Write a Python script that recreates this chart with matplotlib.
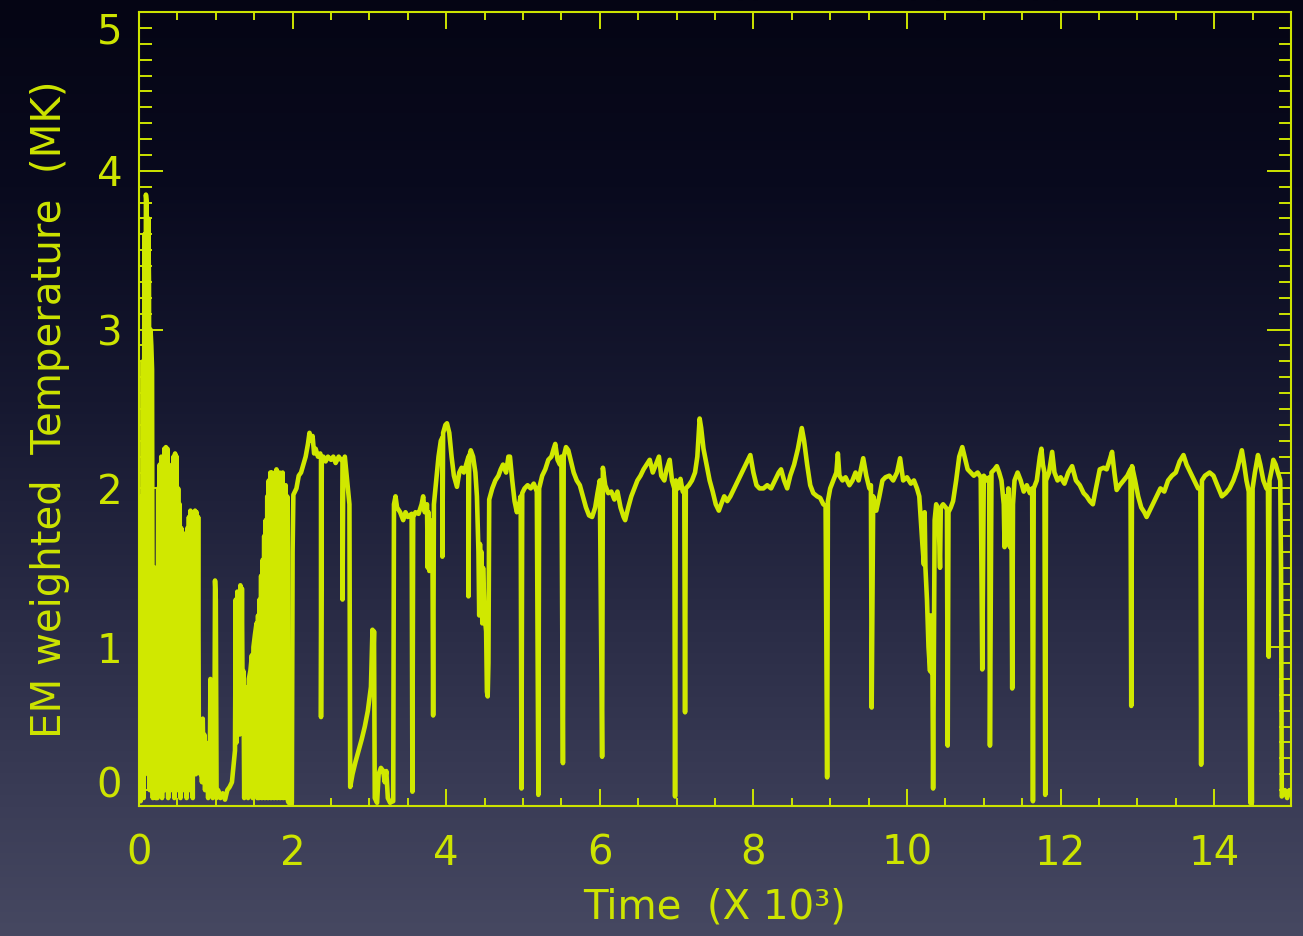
import numpy as np
import matplotlib
matplotlib.use("Agg")
import matplotlib.pyplot as plt
from matplotlib.ticker import MultipleLocator

# ---------------- data ----------------
# early, strongly fluctuating phase (time in units of 10^3)
t_burst = [0.0, 0.01, 0.02, 0.03, 0.04, 0.05, 0.06, 0.07, 0.08, 0.09, 0.10, 0.11, 0.12, 0.13, 0.14,
           0.15, 0.16, 0.17, 0.18, 0.19, 0.20, 0.21, 0.22, 0.23, 0.24, 0.25, 0.26, 0.27, 0.28, 0.29,
           0.30, 0.31, 0.32, 0.33, 0.34, 0.35, 0.36, 0.37, 0.38, 0.39, 0.40, 0.41, 0.42, 0.43, 0.44,
           0.45, 0.46, 0.47, 0.48, 0.49, 0.50, 0.51, 0.52, 0.53, 0.54, 0.55, 0.56, 0.57, 0.58, 0.59,
           0.60, 0.61, 0.62, 0.63, 0.64, 0.65, 0.66, 0.67, 0.68, 0.69, 0.70, 0.71, 0.72, 0.73, 0.74,
           0.75, 0.76, 0.77, 0.78, 0.79, 0.80, 0.81, 0.82, 0.83, 0.84, 0.85, 0.86, 0.87, 0.88, 0.89,
           0.90, 0.91, 0.92, 0.93, 0.935, 0.95, 0.96, 0.97, 0.98, 0.99, 1.00, 1.01, 1.03, 1.06, 1.09,
           1.12, 1.15, 1.18, 1.21, 1.23, 1.25, 1.26, 1.27, 1.28, 1.29, 1.30, 1.31, 1.32, 1.33, 1.34,
           1.35, 1.36, 1.37, 1.38, 1.40, 1.42, 1.43, 1.45, 1.47, 1.48, 1.49, 1.51, 1.53, 1.54, 1.55,
           1.56, 1.57, 1.58, 1.59, 1.60, 1.61, 1.62, 1.63, 1.64, 1.65, 1.66, 1.67, 1.68, 1.69, 1.70,
           1.71, 1.72, 1.73, 1.74, 1.75, 1.76, 1.77, 1.78, 1.79, 1.80, 1.81, 1.82, 1.83, 1.84, 1.85,
           1.86, 1.87, 1.88, 1.89, 1.90, 1.91, 1.92, 1.93, 1.94]
T_burst = [0.05, 1.2, 0.03, 1.95, 0.1, 2.8, 0.05, 3.6, 0.2, 3.85, 3.8, 0.3, 3.7, 3.3, 0.1,
           3.0, 2.9, 2.75, 0.05, 1.0, 0.1, 1.5, 0.05, 0.9, 0.05, 2.0, 0.1, 2.15, 0.3, 2.2,
           0.05, 2.18, 0.5, 2.25, 0.1, 2.26, 0.4, 2.25, 0.05, 2.1, 0.2, 2.0, 0.1, 2.15, 0.6,
           2.2, 0.05, 2.22, 0.3, 2.2, 0.1, 2.0, 0.4, 1.9, 0.05, 1.75, 0.3, 1.72, 0.1, 1.65,
           0.5, 1.6, 0.05, 1.75, 0.3, 1.82, 0.1, 1.86, 0.4, 1.85, 0.05, 1.84, 0.35, 1.86, 0.2,
           1.85, 0.5, 1.82, 0.3, 0.45, 0.2, 0.5, 0.15, 0.55, 0.25, 0.45, 0.1, 0.4, 0.2, 0.35,
           0.05, 0.3, 0.1, 0.8, 0.1, 0.35, 0.05, 0.2, 0.08, 1.42, 1.3, 0.05, 0.1, 0.05, 0.08,
           0.04, 0.1, 0.12, 0.15, 0.25, 0.35, 1.3, 0.4, 1.35, 0.5, 0.8, 0.45, 1.39, 0.55, 1.37,
           0.6, 0.85, 0.05, 0.75, 0.7, 0.05, 0.8, 0.85, 0.95, 0.05, 1.0, 1.08, 1.15, 0.05, 1.2,
           0.05, 1.3, 0.4, 1.45, 0.05, 1.55, 0.6, 1.7, 0.05, 1.8, 0.3, 1.95, 0.05, 2.05, 0.5,
           2.1, 0.05, 2.1, 0.8, 2.08, 0.05, 2.1, 0.3, 2.12, 0.05, 2.08, 0.6, 2.1, 0.05, 2.05,
           0.4, 2.1, 0.05, 2.0, 0.2, 2.02, 0.05, 1.95, 0.03]

# quasi-steady phase with sudden drop-outs
t_main = [1.95, 1.99, 2.00, 2.01, 2.05, 2.08, 2.11, 2.14, 2.17, 2.20, 2.22, 2.24, 2.26, 2.28, 2.30,
          2.33, 2.36, 2.37, 2.37, 2.38, 2.40, 2.43, 2.46, 2.50, 2.53, 2.56, 2.60, 2.63, 2.65, 2.65,
          2.66, 2.68, 2.70, 2.72, 2.74, 2.75, 2.78, 2.82, 2.86, 2.90, 2.94, 2.98, 3.02, 3.04, 3.05,
          3.06, 3.07, 3.10, 3.12, 3.15, 3.18, 3.20, 3.22, 3.24, 3.27, 3.30, 3.31, 3.32, 3.34, 3.36,
          3.40, 3.44, 3.47, 3.50, 3.55, 3.56, 3.57, 3.60, 3.64, 3.68, 3.70, 3.72, 3.75, 3.76, 3.77,
          3.78, 3.79, 3.82, 3.83, 3.84, 3.87, 3.90, 3.93, 3.95, 3.95, 3.96, 3.99, 4.01, 4.04, 4.07,
          4.10, 4.14, 4.17, 4.20, 4.23, 4.26, 4.29, 4.29, 4.30, 4.32, 4.35, 4.38, 4.40, 4.42, 4.43,
          4.44, 4.45, 4.46, 4.47, 4.48, 4.50, 4.52, 4.53, 4.54, 4.55, 4.56, 4.60, 4.64, 4.68, 4.71,
          4.74, 4.78, 4.81, 4.83, 4.86, 4.89, 4.92, 4.95, 4.97, 4.98, 4.99, 5.02, 5.06, 5.10, 5.14,
          5.18, 5.20, 5.21, 5.25, 5.29, 5.33, 5.37, 5.40, 5.42, 5.45, 5.48, 5.50, 5.52, 5.53, 5.56,
          5.59, 5.62, 5.66, 5.70, 5.74, 5.78, 5.82, 5.86, 5.90, 5.94, 5.97, 6.00, 6.03, 6.04, 6.07,
          6.11, 6.15, 6.19, 6.23, 6.27, 6.31, 6.33, 6.37, 6.41, 6.45, 6.49, 6.53, 6.57, 6.61, 6.65,
          6.69, 6.73, 6.77, 6.80, 6.84, 6.87, 6.91, 6.94, 6.97, 6.98, 6.99, 7.02, 7.05, 7.08, 7.10,
          7.11, 7.12, 7.16, 7.20, 7.24, 7.27, 7.30, 7.32, 7.35, 7.39, 7.43, 7.47, 7.51, 7.55, 7.58,
          7.62, 7.66, 7.70, 7.75, 7.80, 7.85, 7.90, 7.96, 8.00, 8.04, 8.08, 8.13, 8.18, 8.23, 8.28,
          8.33, 8.36, 8.40, 8.44, 8.48, 8.53, 8.58, 8.63, 8.66, 8.70, 8.74, 8.78, 8.83, 8.87, 8.91,
          8.94, 8.96, 8.97, 9.00, 9.04, 9.08, 9.10, 9.12, 9.16, 9.20, 9.25, 9.29, 9.33, 9.37, 9.40,
          9.43, 9.47, 9.51, 9.53, 9.54, 9.56, 9.60, 9.64, 9.68, 9.72, 9.77, 9.82, 9.87, 9.91, 9.95,
          10.00, 10.05, 10.09, 10.13, 10.16, 10.18, 10.20, 10.22, 10.23, 10.24, 10.26, 10.28, 10.30, 10.31, 10.32,
          10.33, 10.34, 10.35, 10.36, 10.38, 10.41, 10.43, 10.44, 10.47, 10.52, 10.53, 10.54, 10.57, 10.60, 10.64,
          10.68, 10.72, 10.75, 10.79, 10.83, 10.87, 10.92, 10.96, 10.98, 11.00, 11.04, 11.07, 11.08, 11.10, 11.14,
          11.17, 11.20, 11.23, 11.26, 11.27, 11.28, 11.30, 11.32, 11.34, 11.36, 11.37, 11.38, 11.40, 11.44, 11.48,
          11.52, 11.56, 11.60, 11.63, 11.64, 11.65, 11.69, 11.73, 11.75, 11.77, 11.79, 11.80, 11.81, 11.85, 11.89,
          11.92, 11.96, 12.00, 12.05, 12.10, 12.15, 12.20, 12.25, 12.30, 12.34, 12.38, 12.42, 12.46, 12.51, 12.56,
          12.60, 12.64, 12.67, 12.70, 12.73, 12.77, 12.82, 12.87, 12.91, 12.92, 12.93, 12.97, 13.01, 13.05, 13.09,
          13.12, 13.16, 13.20, 13.25, 13.30, 13.35, 13.40, 13.45, 13.50, 13.55, 13.60, 13.64, 13.69, 13.74, 13.79,
          13.82, 13.83, 13.84, 13.88, 13.94, 13.99, 14.04, 14.10, 14.15, 14.20, 14.25, 14.30, 14.34, 14.36, 14.39,
          14.42, 14.45, 14.47, 14.48, 14.49, 14.50, 14.53, 14.57, 14.60, 14.64, 14.68, 14.70, 14.71, 14.72, 14.75,
          14.77, 14.80, 14.83, 14.86, 14.87, 14.88, 14.92, 14.95, 14.98, 15.00]
T_main = [0.02, 0.02, 1.6, 1.96, 2.0, 2.08, 2.1, 2.15, 2.2, 2.28, 2.35, 2.3, 2.33, 2.22, 2.25,
          2.2, 2.22, 2.2, 0.56, 2.18, 2.2, 2.17, 2.2, 2.18, 2.2, 2.16, 2.2, 2.18, 2.18, 1.3,
          2.15, 2.2, 2.1, 2.0, 1.9, 0.12, 0.2, 0.28, 0.35, 0.42, 0.5, 0.6, 0.75, 1.11, 0.9,
          1.1, 0.05, 0.02, 0.2, 0.24, 0.22, 0.15, 0.22, 0.05, 0.02, 0.03, 0.03, 1.9, 1.95, 1.88,
          1.85, 1.8, 1.85, 1.82, 1.84, 0.09, 1.82, 1.85, 1.84, 1.9, 1.95, 1.85, 1.9, 1.5, 1.85,
          1.48, 1.8, 1.75, 0.57, 1.9, 2.05, 2.2, 2.3, 2.32, 1.57, 2.35, 2.4, 2.41, 2.35, 2.2,
          2.08, 2.01, 2.1, 2.13, 2.1, 2.15, 2.2, 1.32, 2.2, 2.24, 2.2, 2.1, 1.95, 1.6, 1.2,
          1.65, 1.25, 1.6, 1.15, 1.5, 1.2, 1.1, 0.72, 0.69, 0.9, 1.93, 2.0, 2.05, 2.08, 2.12,
          2.15, 2.1, 2.2, 2.2, 2.05, 1.92, 1.85, 1.9, 1.95, 0.11, 1.97, 2.0, 2.02, 2.0, 2.03,
          1.98, 0.07, 2.0, 2.08, 2.12, 2.18, 2.2, 2.25, 2.28, 2.18, 2.15, 2.2, 0.27, 2.2, 2.26,
          2.24, 2.18, 2.1, 2.05, 2.02, 1.95, 1.88, 1.83, 1.82, 1.88, 1.97, 2.05, 0.31, 2.13, 2.02,
          1.97, 1.98, 1.93, 1.98, 1.88, 1.82, 1.8, 1.88, 1.95, 2.0, 2.05, 2.08, 2.12, 2.15, 2.18,
          2.1, 2.15, 2.2, 2.08, 2.05, 2.12, 2.18, 2.05, 2.0, 0.06, 2.05, 2.0, 2.06, 1.98, 1.97,
          0.59, 2.0, 2.02, 2.05, 2.1, 2.2, 2.44, 2.38, 2.25, 2.15, 2.05, 1.98, 1.9, 1.86, 1.9,
          1.95, 1.92, 1.95, 2.0, 2.05, 2.1, 2.15, 2.21, 2.1, 2.02, 2.0, 2.0, 2.02, 2.0, 2.05,
          2.1, 2.12, 2.05, 2.0, 2.08, 2.15, 2.25, 2.38, 2.3, 2.15, 2.02, 1.97, 1.95, 1.94, 1.9,
          1.89, 0.18, 1.92, 2.0, 2.05, 2.1, 2.22, 2.08, 2.05, 2.07, 2.02, 2.05, 2.1, 2.05, 2.12,
          2.19, 2.08, 2.0, 2.02, 0.62, 1.95, 1.86, 1.95, 2.05, 2.07, 2.08, 2.05, 2.1, 2.19, 2.05,
          2.07, 2.03, 2.05, 2.0, 1.95, 1.8, 1.65, 1.52, 1.85, 1.5, 1.3, 1.0, 0.85, 1.2, 0.84,
          1.0, 0.11, 0.9, 1.8, 1.9, 1.85, 1.5, 1.88, 1.9, 1.87, 0.38, 1.85, 1.88, 1.92, 2.05,
          2.2, 2.26, 2.2, 2.12, 2.1, 2.08, 2.1, 2.07, 0.86, 2.08, 2.05, 2.07, 0.38, 2.1, 2.12,
          2.14, 2.1, 2.05, 1.9, 1.63, 1.95, 1.65, 2.0, 1.63, 1.9, 0.74, 1.9, 2.05, 2.1, 2.05,
          1.98, 2.02, 1.97, 2.0, 0.03, 2.0, 2.05, 2.2, 2.25, 2.15, 2.1, 0.07, 2.05, 2.1, 2.23,
          2.1, 2.05, 2.07, 2.03, 2.1, 2.14, 2.05, 2.02, 1.97, 1.95, 1.92, 1.9, 2.0, 2.12, 2.13,
          2.12, 2.18, 2.23, 2.1, 1.99, 2.02, 2.05, 2.08, 2.12, 0.63, 2.14, 2.05, 1.95, 1.88, 1.85,
          1.82, 1.86, 1.9, 1.95, 2.0, 1.98, 2.05, 2.08, 2.1, 2.17, 2.21, 2.15, 2.1, 2.05, 2.0,
          2.0, 0.26, 2.05, 2.08, 2.1, 2.08, 2.02, 1.95, 1.97, 2.0, 2.05, 2.12, 2.2, 2.24, 2.15,
          2.05, 1.98, 0.02, 1.0, 0.02, 2.0, 2.1, 2.21, 2.15, 2.05, 2.0, 2.02, 0.94, 2.05, 2.12,
          2.18, 2.15, 2.1, 2.05, 1.5, 0.06, 0.1, 0.05, 0.1, 0.08]

x_ticks = [0, 2, 4, 6, 8, 10, 12, 14]
y_ticks = [0, 1, 2, 3, 4, 5]
x_label = "Time  (X 10\u00b3)"
y_label = "EM weighted  Temperature  (MK)"

# ---------------- styling ----------------
W, H, DPI = 1303, 936, 100
fg = "#cde400"
line_c = "#d0e800"
font = ["DejaVu Sans"]
fs = 29

fig = plt.figure(figsize=(W / DPI, H / DPI), dpi=DPI)

# vertical background gradient (dark navy on top -> grey-blue at the bottom)
bg = fig.add_axes([0, 0, 1, 1], zorder=-10)
stops_y = np.array([0.0, 0.2, 0.43, 0.64, 0.85, 1.0])
stops_c = np.array([[5, 5, 20], [9, 10, 30], [22, 24, 48], [40, 42, 68], [58, 60, 86], [70, 72, 97]]) / 255.0
yy = np.linspace(0, 1, 400)
grad = np.stack([np.interp(yy, stops_y, stops_c[:, k]) for k in range(3)], axis=-1)
bg.imshow(grad[:, None, :], aspect="auto", extent=[0, 1, 1, 0])
bg.set_axis_off()

ax = fig.add_axes([139 / W, 1 - 806 / H, (1291 - 139) / W, (806 - 12) / H])
ax.set_facecolor("none")

t_all = t_burst + t_main
T_all = T_burst + T_main
ax.plot(t_all, T_all, color=line_c, lw=3.3, solid_joinstyle="round", zorder=3)

ax.set_xlim(0, 15)
ax.set_ylim(0, 5)
ax.set_xticks(x_ticks)
ax.set_yticks(y_ticks)
ax.xaxis.set_minor_locator(MultipleLocator(0.5))
ax.yaxis.set_minor_locator(MultipleLocator(0.1))

for s in ax.spines.values():
    s.set_color(fg)
    s.set_linewidth(1.5)

ax.tick_params(axis="both", which="both", direction="in", colors=fg,
               top=True, right=True, width=1.4)
ax.tick_params(axis="x", which="major", length=12, pad=20)
ax.tick_params(axis="x", which="minor", length=6)
ax.tick_params(axis="y", which="major", length=17, pad=12)
ax.tick_params(axis="y", which="minor", length=9)

for lab in ax.get_xticklabels() + ax.get_yticklabels():
    lab.set_family(font)
    lab.set_fontsize(fs)
    lab.set_color(fg)
ylabs = ax.get_yticklabels()
ylabs[0].set_va("bottom")
ylabs[-1].set_va("top")

ax.set_xlabel(x_label, fontsize=fs, color=fg, family=font, labelpad=10)
ax.set_ylabel(y_label, fontsize=fs, color=fg, family=font, labelpad=19)

fig.savefig("out.png", dpi=DPI)
